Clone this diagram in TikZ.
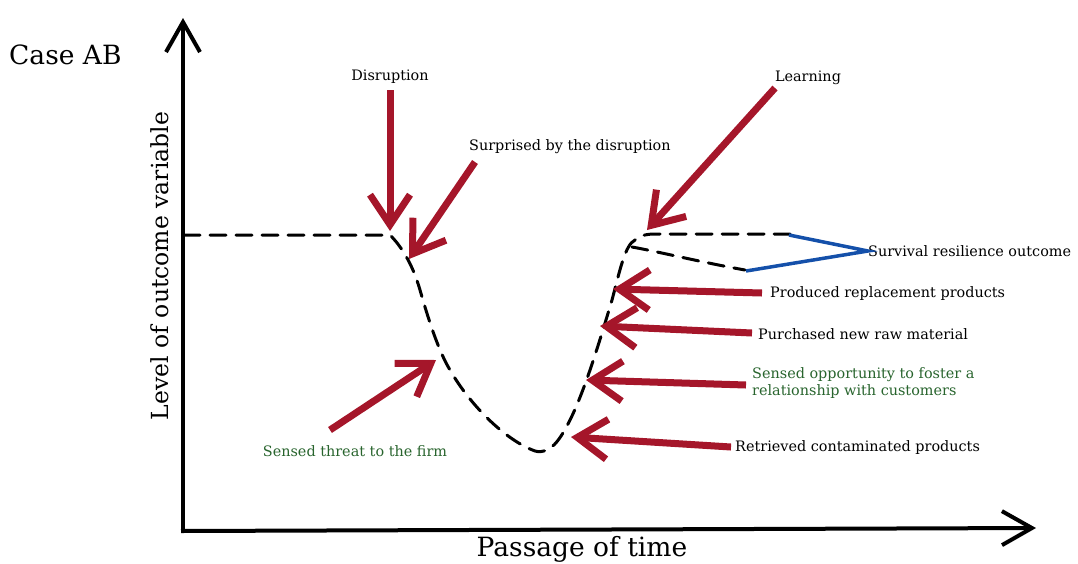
\documentclass[tikz,border=0pt]{standalone}
\usepackage{fontspec}
\setmainfont{DejaVu Serif}
\usetikzlibrary{arrows.meta}
\definecolor{arrowred}{RGB}{165,22,42}
\definecolor{labgreen}{RGB}{40,100,45}
\definecolor{outblue}{RGB}{20,80,170}
\tikzset{
  axis/.style={line width=4pt,-{Straight Barb[length=30pt,width=34pt]}},
  redarrow/.style={line width=7pt,arrowred,-{Straight Barb[length=30pt,width=40pt]}},
  curve/.style={line width=3pt,dash pattern=on 16pt off 10pt,line cap=round},
  lab/.style={font=\fontsize{14.4}{17}\selectfont,inner sep=0pt},
  glab/.style={lab,text=labgreen},
  outline/.style={line width=3.5pt,outblue}
}
\begin{document}
\begin{tikzpicture}[x=1pt,y=-1pt]
\useasboundingbox (0,0) rectangle (1078,563);
% axes
\coordinate (O) at (183,531);
\coordinate (ytop) at (183,18);
\coordinate (xend) at (1036,528);
\draw[axis] (O) -- (ytop);
\draw[axis] ([xshift=-2pt]O) -- (xend);
\node[font=\fontsize{26.5}{30}\selectfont,anchor=west,inner sep=0pt] (case) at (9,55) {Case AB};
\node[font=\fontsize{26.5}{30}\selectfont,inner sep=0pt] (xlab) at (582,549) {Passage of time};
\node[font=\fontsize{23.5}{27}\selectfont,inner sep=0pt,rotate=90] (ylab) at (160,266) {Level of outcome variable};

% outcome trajectory
\draw[curve] (184,235) -- (390,235)
  .. controls (400,245) and (412,262) .. (420,290)
  .. controls (428,318) and (438,350) .. (450,370)
  .. controls (470,405) and (505,440) .. (535,451)
  .. controls (550,455) and (560,440) .. (570,420)
  .. controls (585,390) and (600,340) .. (612,300)
  .. controls (620,270) and (625,245) .. (635,240)
  .. controls (640,236) and (645,234) .. (655,234) -- (790,234);
\draw[curve] (632,247) .. controls (660,252) and (700,262) .. (745,270);

% outcome bracket
\node[lab,anchor=west] (surv) at (868,251) {Survival resilience outcome};
\coordinate (b1) at (789,235);
\coordinate (b2) at (746,271);
\draw[outline] (b1) -- (surv.west) -- (b2);

% labels
\node[lab] (disr) at (390,77) {Disruption};
\node[lab,anchor=west] (surp) at (469,147) {Surprised by the disruption};
\node[lab] (learn) at (808,78) {Learning};
\node[lab,anchor=west] (prod) at (770,294) {Produced replacement products};
\node[lab,anchor=west] (purch) at (758,334) {Purchased new raw material};
\node[glab,anchor=west,align=left] (opp) at (752,383) {Sensed opportunity to foster a\\relationship with customers};
\node[lab,anchor=west] (retr) at (735,448) {Retrieved contaminated products};
\node[glab] (threat) at (355,451) {Sensed threat to the firm};

% red arrows
\coordinate (t1s) at (390,90);   \coordinate (t1e) at (390,231);
\coordinate (t2s) at (475,162);  \coordinate (t2e) at (409,259);
\coordinate (t3s) at (775,88);   \coordinate (t3e) at (647,230);
\coordinate (t4s) at (762,293);  \coordinate (t4e) at (613,289);
\coordinate (t5s) at (752,333);  \coordinate (t5e) at (600,326);
\coordinate (t6s) at (746,385);  \coordinate (t6e) at (586,380);
\coordinate (t7s) at (731,447);  \coordinate (t7e) at (571,437);
\coordinate (t8s) at (330,430);  \coordinate (t8e) at (436,360);
\foreach \i in {1,...,8}{
  \draw[redarrow] (t\i s) -- (t\i e);
}
\end{tikzpicture}
\end{document}
